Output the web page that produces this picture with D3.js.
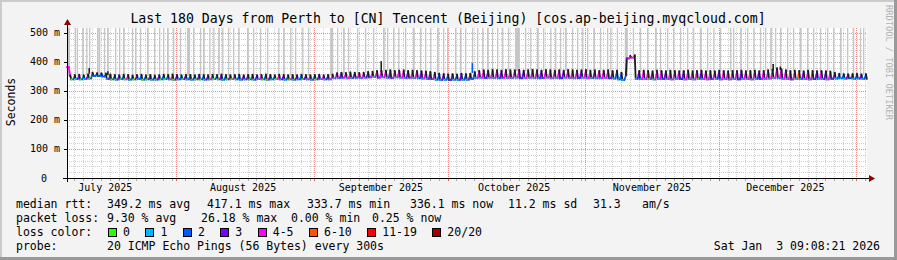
<!DOCTYPE html>
<html>
<head>
<meta charset="utf-8">
<script src="https://cdn.jsdelivr.net/npm/d3@7"></script>
<style>
  body { margin: 0; background: #fff; }
  text { font-family: "DejaVu Sans Mono", monospace; fill: #000; white-space: pre; }
</style>
</head>
<body>
<div id="chart"></div>
<script>
// time range of the graph (180 days)
const startTime = new Date(Date.UTC(2025, 6, 7, 9, 8, 21));
const endTime = new Date(Date.UTC(2026, 0, 3, 9, 8, 21));

const yTicks = [0, 100, 200, 300, 400, 500];
const yTickLabels = ["0", "100 m", "200 m", "300 m", "400 m", "500 m"];

// median rtt per day (ms): bottom and top of the daily saw tooth
const medLow = [
  382, 340, 341, 340, 342, 343, 352, 352, 350, 341,
  340, 339, 341, 340, 339, 340, 341, 339, 340, 339,
  339, 340, 341, 340, 339, 340, 341, 340, 339, 340,
  340, 339, 340, 341, 340, 339, 340, 341, 340, 339,
  340, 340, 339, 341, 340, 339, 340, 341, 340, 339,
  340, 339, 340, 341, 340, 339, 340, 341, 340, 340,
  344, 345, 346, 344, 345, 346, 345, 346, 347, 348,
  346, 347, 346, 345, 347, 346, 345, 346, 345, 344,
  343, 342, 341, 339, 338, 339, 338, 339, 338, 339,
  339, 342, 345, 346, 345, 346, 345, 344, 346, 345,
  345, 346, 344, 345, 346, 345, 344, 345, 346, 344,
  345, 344, 346, 345, 344, 345, 346, 344, 345, 344,
  344, 345, 344, 343, 340, 338, 412, 415, 342, 341,
  341, 342, 340, 341, 342, 341, 340, 342, 341, 340,
  341, 340, 342, 341, 340, 341, 342, 340, 341, 340,
  341, 340, 342, 341, 340, 342, 341, 342, 343, 345,
  344, 342, 341, 340, 341, 342, 341, 340, 341, 342,
  341, 340, 342, 343, 344, 343, 344, 342, 343, 342
];
const medHigh = [
  350, 352, 353, 351, 354, 360, 358, 358, 357, 354,
  352, 351, 353, 352, 350, 352, 353, 351, 352, 350,
  351, 353, 352, 354, 352, 351, 353, 352, 351, 353,
  352, 351, 353, 352, 354, 352, 351, 352, 353, 351,
  352, 353, 351, 352, 354, 352, 351, 353, 352, 351,
  352, 351, 353, 352, 351, 352, 353, 351, 352, 353,
  358, 360, 359, 361, 360, 359, 360, 362, 363, 366,
  366, 367, 368, 366, 367, 368, 366, 367, 366, 365,
  364, 362, 360, 356, 355, 354, 355, 354, 356, 355,
  356, 362, 366, 368, 367, 369, 368, 367, 369, 368,
  368, 369, 367, 368, 370, 368, 367, 369, 368, 367,
  368, 367, 369, 368, 367, 368, 369, 367, 368, 366,
  367, 368, 366, 367, 360, 352, 418, 420, 366, 367,
  366, 365, 367, 366, 365, 367, 366, 365, 366, 367,
  365, 366, 367, 365, 366, 365, 367, 366, 365, 366,
  366, 367, 365, 366, 367, 365, 366, 368, 370, 375,
  372, 368, 366, 367, 366, 365, 367, 366, 365, 366,
  365, 364, 360, 356, 355, 354, 355, 356, 354, 355
];
// lost pings (of 20) for the low and the high part of each day
const lossLow = [
  4, 0, 1, 0, 1, 0, 2, 2, 2, 1,
  0, 1, 0, 0, 1, 0, 1, 0, 0, 1,
  1, 0, 0, 1, 0, 1, 0, 1, 1, 0,
  0, 1, 1, 0, 0, 1, 0, 0, 1, 1,
  1, 0, 1, 1, 0, 0, 1, 0, 1, 1,
  0, 1, 1, 0, 1, 1, 0, 1, 1, 1,
  1, 1, 2, 1, 1, 2, 1, 1, 2, 1,
  2, 1, 1, 2, 1, 1, 1, 2, 1, 1,
  1, 1, 2, 1, 1, 1, 2, 1, 1, 1,
  1, 2, 1, 1, 2, 1, 1, 1, 2, 1,
  1, 1, 2, 1, 1, 1, 1, 2, 1, 1,
  1, 2, 1, 1, 1, 2, 1, 1, 1, 1,
  1, 1, 2, 1, 1, 1, 3, 4, 1, 1,
  1, 0, 1, 1, 2, 1, 1, 1, 2, 1,
  1, 1, 0, 1, 1, 2, 1, 1, 1, 1,
  1, 2, 1, 1, 1, 1, 2, 1, 1, 1,
  1, 1, 1, 2, 1, 1, 1, 1, 2, 1,
  1, 1, 2, 1, 1, 1, 2, 1, 1, 1
];
const lossHigh = [
  4, 2, 3, 2, 3, 2, 2, 2, 2, 3,
  2, 3, 2, 4, 2, 3, 2, 2, 3, 2,
  3, 2, 2, 4, 3, 2, 3, 2, 2, 3,
  2, 3, 4, 2, 3, 2, 3, 4, 2, 3,
  3, 2, 3, 4, 2, 3, 2, 4, 3, 2,
  4, 3, 2, 3, 4, 2, 3, 4, 3, 4,
  4, 3, 4, 4, 3, 4, 4, 3, 4, 4,
  4, 4, 3, 4, 4, 4, 3, 4, 4, 3,
  4, 3, 4, 2, 3, 2, 3, 2, 3, 2,
  3, 2, 4, 4, 3, 4, 4, 3, 4, 4,
  4, 4, 3, 4, 4, 4, 3, 4, 4, 4,
  4, 3, 4, 4, 4, 3, 4, 4, 3, 4,
  4, 4, 3, 2, 2, 2, 4, 4, 3, 4,
  4, 3, 4, 4, 3, 4, 4, 4, 3, 4,
  4, 4, 3, 4, 4, 4, 3, 4, 4, 4,
  4, 3, 4, 4, 4, 3, 4, 4, 4, 5,
  4, 4, 5, 4, 8, 3, 4, 4, 3, 4,
  3, 4, 3, 2, 2, 3, 2, 2, 3, 2
];

// smoke reaching above the graph top: day offset and length (days)
const smokeDays = [
  0, 1.8, 2.25, 3.4, 4.3, 4.95, 6.75, 7.2, 8.3, 9.0, 10.8, 11.7, 12.6, 14.6, 15.3,
  16.4, 18.0, 19.6, 20.7, 21.6, 22.5, 23.85, 25.4, 27.0, 28.35, 29.9, 30.6, 32.0,
  32.9, 34.0, 34.9, 36.2, 37.35, 38.5, 40.5, 41.85, 43.4, 45.0, 47.5, 48.6, 50.2,
  51.3, 52.9, 54.2, 59.2, 60.75, 62.1, 63.2, 65.25, 67.05, 68.85, 71.1, 72.0, 73.35,
  74.5, 76.05, 77.85, 79.4, 80.55, 81.7, 83.25, 84.6, 85.5, 87.3, 88.4, 89.55, 91.1,
  92.25, 93.4, 94.5, 95.6, 96.75, 97.9, 99.2, 100.8, 103.05, 104.2, 105.75, 107.1,
  108.7, 109.8, 110.9, 112.05, 113.6, 114.75, 115.9, 117.0, 118.4, 119.9, 121.5,
  122.2, 123.7, 125.5, 127.3, 128.9, 130.5, 132.3, 133.4, 135.0, 136.35, 137.9,
  139.5, 140.85, 142.4, 144.0, 145.4, 146.9, 149.2, 149.85, 151.45, 153.0, 154.4,
  155.9, 157.05, 158.2, 159.3, 160.4, 162.0, 163.35, 164.9, 166.5, 167.85, 169.4,
  171.0, 172.35, 173.9, 175.5, 176.85, 178.4, 179.1
];
const smokeLen = [
  0.7, 0.3, 0.25, 0.4, 0.3, 0.3, 0.4, 0.3, 0.3, 0.4, 0.3, 0.3, 0.4, 0.3, 0.3,
  0.3, 0.4, 0.3, 0.3, 0.3, 0.4, 0.3, 0.3, 0.7, 0.3, 0.3, 0.4, 0.3,
  0.3, 0.4, 0.3, 0.3, 0.3, 0.3, 0.4, 0.3, 0.3, 0.3, 0.3, 0.4, 0.3,
  0.3, 0.3, 0.3, 0.7, 0.3, 0.4, 0.3, 0.3, 0.3, 0.3, 0.4, 0.3, 0.3,
  0.3, 0.3, 0.4, 0.3, 0.3, 0.3, 0.4, 0.3, 0.3, 0.3, 0.4, 0.3, 0.3,
  0.3, 0.3, 0.4, 0.3, 0.3, 0.3, 0.3, 1.1, 0.3, 0.3, 0.4, 0.3,
  0.3, 0.3, 0.3, 0.4, 0.3, 0.3, 0.3, 0.3, 0.4, 0.3, 0.3,
  0.3, 0.3, 0.7, 0.3, 0.3, 0.3, 0.4, 0.3, 0.3, 0.3, 0.3,
  0.3, 0.3, 0.4, 0.3, 0.3, 0.3, 0.3, 0.3, 0.4, 0.3, 0.3,
  0.3, 0.3, 0.4, 0.3, 0.3, 0.3, 0.3, 0.4, 0.3, 0.3, 0.3,
  0.3, 0.3, 0.4, 0.3, 0.3, 0.3, 0.3
];
// dark smoke spikes: day offset and top (ms)
const spikeDays = [5.0, 9.2, 70.7, 91.2, 158.9, 160.5];
const spikeTop = [379, 368, 403, 396, 393, 384];

const lossLabels = ["0", "1", "2", "3", "4-5", "6-10", "11-19", "20/20"];
const lossColors = ["#26ff00", "#00b8ff", "#0059ff", "#7e00ff", "#ff00ff", "#ff5500", "#ff0000", "#a10000"];

const title = "Last 180 Days from Perth to [CN] Tencent (Beijing) [cos.ap-beijing.myqcloud.com]";
const rttLegend = [["median rtt:", 16], ["349.2 ms avg", 107], ["417.1 ms max", 207], ["333.7 ms min", 307],
  ["336.1 ms now", 410], ["11.2 ms sd", 508], ["31.3", 593], ["am/s", 642]];
const lossLegend = [["packet loss:", 16], ["9.30 % avg", 107], ["26.18 % max", 201], ["0.00 % min", 291], ["0.25 % now", 372]];
const probeText = "20 ICMP Echo Pings (56 Bytes) every 300s";
const stampText = "Sat Jan  3 09:08:21 2026";

const width = 897, height = 260;
const gLeft = 67, gRight = 867, gTop = 28, gBottom = 178;

const svg = d3.select("#chart").append("svg")
  .attr("width", width).attr("height", height);

// background + 3d frame
svg.append("rect").attr("width", width).attr("height", height).attr("fill", "#f3f3f3");
svg.append("path").attr("d", `M0,0H${width}V2H2V${height}H0Z`).attr("fill", "#cbcbcb");
svg.append("path").attr("d", `M${width},${height}H0V${height - 3}H${width - 3}V0H${width}Z`).attr("fill", "#999");

const x = d3.scaleTime().domain([startTime, endTime]).range([gLeft, gRight]);
const y = d3.scaleLinear().domain([0, 517]).range([gBottom, gTop]);
const dayT = d => new Date(+startTime + d * 864e5);
const lossColor = d3.scaleThreshold().domain([1, 2, 3, 4, 6, 11, 20]).range(lossColors);

svg.append("rect").attr("x", gLeft).attr("y", gTop)
  .attr("width", gRight - gLeft).attr("height", gBottom - gTop).attr("fill", "#fff");

// grid
const minorY = d3.range(20, 517, 20).filter(v => v % 100 !== 0);
const months = d3.utcMonth.range(startTime, endTime);
const minorX = d3.utcDay.every(2).range(startTime, endTime)
  .filter(t => t.getUTCDate() !== 1);

const grid = svg.append("g").attr("shape-rendering", "crispEdges");
grid.selectAll(".hmin").data(minorY).join("line")
  .attr("x1", gLeft).attr("x2", gRight)
  .attr("y1", d => Math.round(y(d)) + 0.5).attr("y2", d => Math.round(y(d)) + 0.5)
  .attr("stroke", "#cfcfcf").attr("stroke-dasharray", "1,1");
grid.selectAll(".vmin").data(minorX).join("line")
  .attr("x1", d => Math.round(x(d)) + 0.5).attr("x2", d => Math.round(x(d)) + 0.5)
  .attr("y1", gTop).attr("y2", gBottom)
  .attr("stroke", "#cfcfcf").attr("stroke-dasharray", "1,1");
grid.selectAll(".hmaj").data(yTicks.slice(1)).join("line")
  .attr("x1", gLeft).attr("x2", gRight)
  .attr("y1", d => Math.round(y(d)) + 0.5).attr("y2", d => Math.round(y(d)) + 0.5)
  .attr("stroke", "#f08a8a").attr("stroke-dasharray", "1,1");
grid.selectAll(".vmaj").data(months).join("line")
  .attr("x1", d => Math.round(x(d)) + 0.5).attr("x2", d => Math.round(x(d)) + 0.5)
  .attr("y1", gTop).attr("y2", gBottom)
  .attr("stroke", "#f08a8a").attr("stroke-dasharray", "1,1");

// smoke going off the top
svg.append("g").selectAll("rect").data(smokeDays).join("rect")
  .attr("x", d => x(dayT(d)))
  .attr("width", (d, i) => Math.max(1, x(dayT(d + smokeLen[i])) - x(dayT(d))))
  .attr("y", gTop)
  .attr("height", (d, i) => y(medHigh[Math.min(179, Math.floor(d))]) - gTop)
  .attr("fill", "#c6c6c6");

// dark smoke spikes
svg.append("g").selectAll("line").data(spikeDays).join("line")
  .attr("x1", d => x(dayT(d))).attr("x2", d => x(dayT(d)))
  .attr("y1", d => y(medHigh[Math.floor(d)]))
  .attr("y2", (d, i) => y(spikeTop[i]))
  .attr("stroke", (d, i) => i === 3 ? "#0059ff" : "#222").attr("stroke-width", 1.6);

// median line segments coloured by loss, dark smoke at each drop
const segs = [];
medLow.forEach((lo, i) => {
  segs.push({ t0: i, v0: lo, t1: i + 0.4, v1: lo, c: lossColor(lossLow[i]) });
  segs.push({ t0: i + 0.4, v0: lo, t1: i + 0.75, v1: medHigh[i], c: lossColor(lossHigh[i]) });
  const next = i < 179 ? medLow[i + 1] : lo;
  segs.push({ t0: i + 0.75, v0: medHigh[i] + 3, t1: i + 0.95, v1: next, c: "#1a1a1a" });
});
svg.append("g").selectAll("line").data(segs).join("line")
  .attr("x1", d => x(dayT(d.t0))).attr("y1", d => y(d.v0))
  .attr("x2", d => x(dayT(d.t1))).attr("y2", d => y(d.v1))
  .attr("stroke", d => d.c).attr("stroke-width", 1.8).attr("stroke-linecap", "square");

// axes
const axis = svg.append("g").attr("shape-rendering", "crispEdges");
axis.append("line").attr("x1", gLeft - 4).attr("x2", gRight + 2)
  .attr("y1", gBottom + 0.5).attr("y2", gBottom + 0.5).attr("stroke", "#000");
axis.append("line").attr("x1", gLeft + 0.5).attr("x2", gLeft + 0.5)
  .attr("y1", gBottom + 4).attr("y2", gTop - 6).attr("stroke", "#000");
axis.selectAll(".yt").data(yTicks).join("line")
  .attr("x1", gLeft - 3).attr("x2", gLeft)
  .attr("y1", d => Math.round(y(d)) + 0.5).attr("y2", d => Math.round(y(d)) + 0.5)
  .attr("stroke", "#000");
axis.selectAll(".xtm").data(minorX).join("line")
  .attr("x1", d => Math.round(x(d)) + 0.5).attr("x2", d => Math.round(x(d)) + 0.5)
  .attr("y1", gBottom + 1).attr("y2", gBottom + 3).attr("stroke", "#aaa");
axis.selectAll(".xtM").data(months).join("line")
  .attr("x1", d => Math.round(x(d)) + 0.5).attr("x2", d => Math.round(x(d)) + 0.5)
  .attr("y1", gBottom + 1).attr("y2", gBottom + 3).attr("stroke", "#e06060");
// arrows
svg.append("path").attr("d", `M${gLeft - 3},${gTop - 3}L${gLeft + 0.5},${gTop - 9}L${gLeft + 4},${gTop - 3}Z`).attr("fill", "#900000");
svg.append("path").attr("d", `M${gRight + 2},${gBottom - 3}L${gRight + 8},${gBottom + 0.5}L${gRight + 2},${gBottom + 4}Z`).attr("fill", "#900000");

// y labels
svg.selectAll(".ylab").data(yTicks).join("text")
  .attr("x", d => d === 0 ? 47 : 60).attr("y", d => y(d) + 3.5)
  .attr("text-anchor", "end").attr("font-size", 10)
  .text((d, i) => yTickLabels[i]);

// month labels at mid month
const monthLabels = d3.utcMonth.range(d3.utcMonth.floor(startTime), endTime)
  .map(m => d3.utcDay.offset(m, 15))
  .filter(t => t > startTime && t < endTime);
svg.selectAll(".xlab").data(monthLabels).join("text")
  .attr("x", d => x(d)).attr("y", 191)
  .attr("text-anchor", "middle").attr("font-size", 10)
  .text(d => d3.utcFormat("%B %Y")(d));

// titles
svg.append("text").attr("x", 448).attr("y", 23).attr("text-anchor", "middle")
  .attr("font-size", 13.2).text(title);
svg.append("text").attr("transform", "translate(15,102) rotate(-90)")
  .attr("text-anchor", "middle").attr("font-size", 11.5).text("Seconds");
svg.append("text").attr("transform", "translate(886,5) rotate(90)")
  .attr("font-size", 8.7).style("fill", "#b4b4b4").text("RRDTOOL / TOBI OETIKER");

// legend
const lg = svg.append("g").attr("font-size", 11.5);
lg.selectAll(".l1").data(rttLegend).join("text")
  .attr("x", d => d[1]).attr("y", 208).text(d => d[0]);
lg.selectAll(".l2").data(lossLegend).join("text")
  .attr("x", d => d[1]).attr("y", 222).text(d => d[0]);
lg.append("text").attr("x", 16).attr("y", 236).text("loss color:");
let bx = 108;
lossLabels.forEach((lab, i) => {
  lg.append("rect").attr("x", bx + 0.5).attr("y", 228.5).attr("width", 8).attr("height", 8)
    .attr("fill", lossColors[i]).attr("stroke", "#000").attr("shape-rendering", "crispEdges");
  const t = lg.append("text").attr("x", bx + 15).attr("y", 236).text(lab);
  bx = bx + 15 + t.node().getComputedTextLength() + 15.5;
});
lg.append("text").attr("x", 16).attr("y", 250).text("probe:");
lg.append("text").attr("x", 107).attr("y", 250).text(probeText);
lg.append("text").attr("x", 880).attr("y", 250).attr("text-anchor", "end").text(stampText);
</script>
</body>
</html>
